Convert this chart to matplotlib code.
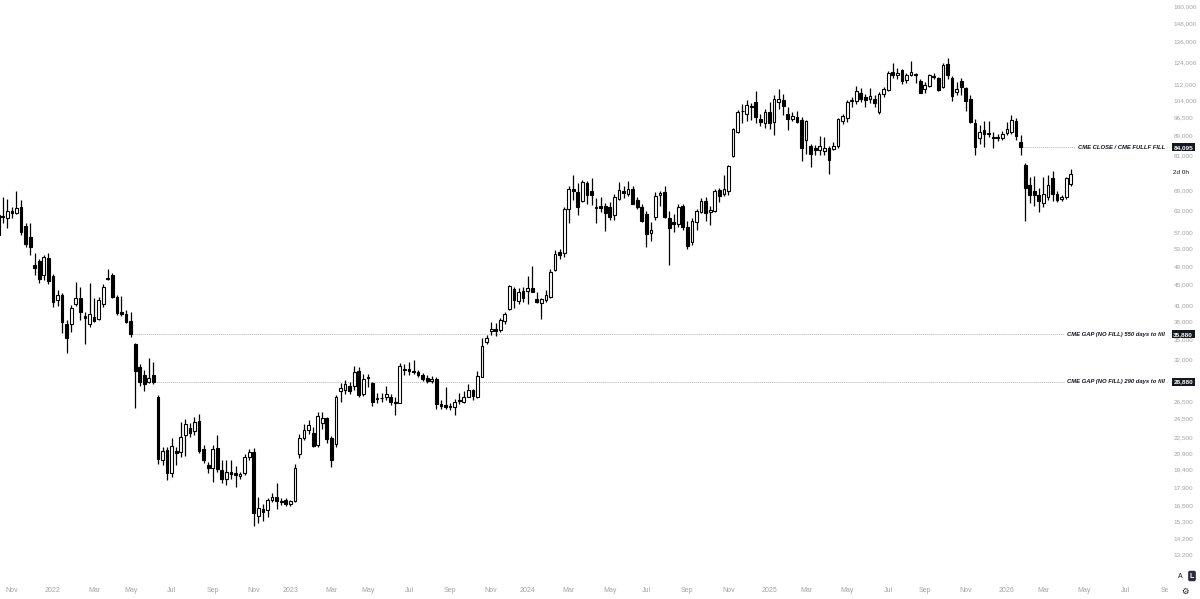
import matplotlib
matplotlib.use("Agg")
import matplotlib.pyplot as plt
import matplotlib.dates as mdates
import matplotlib.transforms as mtransforms
from matplotlib.patches import Rectangle
import numpy as np
import pandas as pd

plt.rcParams["font.family"] = ["Liberation Sans", "DejaVu Sans"]

# weekly CME bitcoin futures candles, prices in thousands of USD
first_week = "2021-10-11"

opens = [56.5, 61.6, 60.8, 62.8, 62.4, 64.0, 58.8, 55.9, 49.2, 50.1,
         47.0, 50.8, 46.8, 41.9, 42.9, 37.6, 37.6, 41.1, 42.3, 39.0,
         37.6, 38.8, 38.5, 41.1, 46.1, 47.0, 42.5, 39.8, 39.3, 38.2,
         34.3, 30.9, 29.8, 28.9, 29.8, 27.0, 20.2, 21.2, 19.1, 21.1,
         21.0, 22.7, 23.4, 23.1, 24.2, 21.3, 19.8, 19.5, 21.4, 19.3,
         18.6, 19.2, 19.1, 18.8, 19.1, 20.5, 21.0, 15.7, 16.2, 16.1,
         16.9, 17.1, 16.8, 16.9, 16.6, 16.8, 20.8, 22.4, 23.2, 22.9,
         21.7, 24.0, 24.5, 22.4, 21.8, 27.7, 27.8, 28.4, 28.3, 30.4,
         27.3, 29.4, 28.8, 26.7, 26.9, 27.0, 27.0, 26.4, 26.3, 30.6,
         30.7, 30.3, 30.2, 29.8, 29.4, 29.0, 29.3, 26.1, 26.0, 25.8,
         25.8, 26.6, 26.4, 27.0, 27.9, 27.0, 29.6, 34.6, 36.5, 36.8,
         36.6, 38.1, 40.3, 44.1, 41.8, 43.7, 43.8, 44.3, 42.1, 41.4,
         41.9, 42.5, 48.1, 52.2, 52.0, 63.6, 69.5, 68.6, 65.9, 71.4,
         69.0, 64.2, 64.4, 64.4, 64.2, 61.8, 66.3, 68.8, 68.1, 69.4,
         66.0, 64.0, 62.1, 56.8, 61.3, 67.6, 68.6, 60.9, 59.9, 59.3,
         64.4, 58.6, 54.6, 59.7, 62.5, 65.9, 62.5, 62.8, 69.1, 68.0,
         68.8, 80.9, 90.2, 99.4, 98.0, 101.6, 103.5, 95.5, 94.0, 98.9,
         94.3, 103.2, 104.5, 98.0, 95.6, 96.6, 95.2, 86.9, 84.4, 83.8,
         82.9, 82.5, 83.8, 83.5, 84.4, 94.7, 95.9, 104.0, 103.8, 107.5,
         105.6, 104.9, 105.0, 98.9, 107.4, 109.1, 118.5, 116.6, 119.6, 114.3,
         117.0, 117.5, 113.7, 109.5, 110.9, 116.3, 115.5, 110.6, 122.8, 115.5,
         108.1, 113.5, 110.0, 104.9, 94.0, 87.6, 91.0, 89.9, 88.0, 87.7,
         87.6, 89.8, 90.3, 94.9, 86.2, 77.6, 70.8, 68.9, 67.7, 65.1,
         66.9, 73.2, 67.9, 66.5, 67.2, 71.2]

highs = [62.8, 67.2, 66.3, 64.0, 68.9, 66.0, 59.6, 59.6, 52.0, 50.5,
         51.6, 52.0, 47.3, 43.9, 43.3, 38.3, 41.0, 45.5, 44.5, 39.8,
         45.3, 42.3, 42.5, 45.1, 48.3, 47.5, 42.9, 42.7, 40.1, 39.7,
         34.5, 31.3, 30.5, 32.2, 31.6, 27.2, 21.5, 21.5, 22.4, 21.5,
         24.1, 24.4, 24.0, 24.6, 25.0, 21.7, 20.1, 21.7, 22.7, 20.2,
         20.2, 20.2, 19.7, 19.2, 20.8, 21.3, 21.4, 17.1, 16.6, 17.0,
         17.4, 18.2, 17.0, 17.0, 16.9, 19.9, 22.8, 23.8, 24.3, 23.5,
         25.2, 25.2, 24.6, 22.6, 27.2, 28.8, 29.2, 28.9, 31.0, 30.9,
         30.0, 29.9, 28.9, 27.5, 27.5, 28.4, 27.3, 27.0, 31.5, 31.4,
         31.6, 31.9, 30.5, 30.1, 29.8, 29.7, 29.6, 26.6, 28.2, 26.2,
         26.7, 27.5, 27.7, 28.6, 28.0, 30.4, 35.3, 35.8, 38.0, 37.8,
         38.6, 39.7, 45.0, 44.6, 44.3, 44.5, 46.7, 49.0, 43.5, 42.4,
         43.9, 48.3, 52.6, 53.0, 64.0, 70.5, 74.0, 71.5, 72.5, 72.0,
         73.0, 66.7, 67.2, 65.1, 65.5, 68.0, 71.8, 70.5, 72.0, 70.5,
         67.0, 64.8, 63.0, 59.8, 68.5, 69.0, 70.5, 62.8, 62.1, 65.0,
         64.8, 60.0, 61.0, 63.5, 66.8, 67.2, 64.4, 69.5, 69.8, 74.0,
         77.5, 92.0, 99.8, 102.6, 104.5, 103.0, 108.8, 98.0, 99.9, 103.3,
         106.7, 109.5, 107.4, 101.1, 98.9, 99.0, 96.5, 95.0, 85.4, 85.0,
         88.5, 88.0, 84.7, 86.0, 96.0, 97.8, 104.5, 105.5, 111.3, 110.0,
         107.4, 110.2, 106.5, 108.2, 110.5, 119.0, 123.2, 120.5, 120.0, 117.8,
         124.5, 118.0, 114.5, 113.0, 117.5, 118.0, 116.0, 123.5, 126.3, 116.2,
         113.4, 115.5, 110.8, 106.5, 95.5, 93.0, 94.7, 94.7, 90.3, 89.5,
         90.5, 94.5, 97.5, 95.9, 89.0, 78.4, 73.4, 73.8, 69.9, 73.6,
         74.0, 75.6, 68.8, 67.8, 73.5, 76.1]

lows = [55.5, 59.5, 58.3, 61.0, 62.0, 56.5, 53.5, 51.6, 47.0, 45.3,
        45.9, 45.2, 40.7, 40.9, 36.1, 32.9, 36.2, 40.8, 38.3, 34.4,
        37.1, 37.9, 38.3, 40.7, 45.9, 42.3, 39.2, 39.0, 37.7, 35.5,
        25.6, 28.4, 27.7, 28.7, 28.6, 19.9, 19.8, 18.5, 18.7, 19.8,
        20.5, 20.6, 22.5, 22.7, 20.9, 20.0, 19.1, 18.3, 19.2, 18.2,
        18.1, 18.6, 17.9, 18.6, 18.9, 20.2, 15.0, 15.2, 15.3, 15.6,
        16.7, 16.2, 16.5, 16.4, 16.4, 16.7, 20.4, 22.2, 22.8, 21.5,
        21.5, 23.3, 21.9, 19.6, 21.5, 26.4, 27.3, 27.3, 27.8, 27.0,
        27.1, 28.2, 25.9, 26.3, 26.4, 26.6, 26.0, 24.8, 26.2, 29.8,
        29.8, 29.9, 29.6, 29.0, 28.8, 28.7, 25.5, 25.5, 25.5, 25.4,
        24.9, 26.1, 26.2, 27.0, 26.6, 26.9, 29.5, 34.3, 35.8, 35.6,
        36.3, 37.6, 40.0, 40.5, 41.2, 41.5, 41.1, 43.5, 41.3, 38.5,
        41.5, 42.3, 47.8, 50.6, 51.0, 59.5, 66.0, 61.9, 65.5, 65.0,
        64.6, 59.6, 62.5, 57.4, 60.5, 60.5, 66.0, 66.8, 67.5, 64.8,
        63.5, 59.8, 53.5, 55.0, 60.5, 64.5, 61.0, 49.2, 57.2, 58.5,
        57.8, 53.0, 54.0, 57.8, 62.2, 60.0, 59.0, 62.5, 65.5, 67.5,
        67.8, 80.5, 89.8, 94.0, 94.7, 95.0, 94.0, 92.6, 91.8, 91.5,
        89.0, 100.0, 97.5, 91.0, 94.7, 93.8, 78.9, 81.5, 76.7, 81.0,
        81.1, 81.0, 74.5, 83.0, 84.0, 93.5, 94.5, 101.0, 102.5, 103.5,
        101.1, 103.0, 101.0, 98.0, 105.5, 108.5, 115.5, 115.0, 112.0, 112.8,
        116.5, 112.5, 107.5, 107.5, 110.5, 114.8, 108.5, 110.0, 115.0, 104.0,
        106.7, 106.5, 99.0, 94.0, 81.0, 85.5, 84.2, 88.0, 84.0, 86.5,
        86.8, 89.0, 89.5, 86.9, 81.3, 60.0, 65.1, 64.4, 62.5, 64.0,
        66.0, 65.8, 65.5, 65.8, 66.5, 70.5]

closes = [61.8, 61.1, 62.9, 62.2, 63.8, 57.3, 54.1, 53.5, 48.5, 46.2,
          51.0, 45.8, 41.5, 42.9, 37.9, 35.3, 40.5, 42.3, 39.7, 38.7,
          39.3, 38.1, 41.9, 44.5, 46.4, 42.5, 39.5, 39.3, 37.9, 35.88,
          30.3, 28.9, 28.6, 29.4, 28.88, 20.3, 21.1, 19.1, 21.6, 20.9,
          22.5, 23.9, 22.9, 24.1, 21.1, 20.2, 19.5, 21.3, 19.4, 18.6,
          19.2, 19.0, 18.9, 19.0, 20.5, 21.0, 15.9, 16.3, 16.0, 16.9,
          17.1, 16.8, 16.75, 16.6, 16.8, 19.5, 22.4, 23.2, 23.7, 21.6,
          24.7, 24.5, 22.3, 20.2, 27.0, 28.1, 28.6, 27.7, 30.2, 27.2,
          29.3, 29.5, 26.4, 26.9, 26.8, 27.4, 26.4, 26.2, 31.0, 30.5,
          30.3, 30.2, 29.8, 29.3, 29.0, 29.3, 26.1, 25.9, 25.8, 25.9,
          26.4, 26.5, 27.0, 27.9, 27.1, 29.7, 34.0, 35.3, 36.8, 36.4,
          38.3, 39.4, 44.7, 41.9, 43.6, 42.4, 44.4, 43.6, 41.5, 42.2,
          42.9, 47.6, 51.7, 51.6, 63.6, 69.5, 69.0, 64.0, 71.8, 67.8,
          67.6, 63.9, 63.8, 62.3, 61.2, 67.2, 69.2, 68.3, 69.4, 65.0,
          64.1, 60.2, 56.6, 57.7, 67.5, 68.3, 61.3, 58.3, 59.3, 64.0,
          58.6, 53.6, 60.0, 62.8, 65.9, 62.3, 63.2, 68.9, 67.3, 69.4,
          77.3, 91.5, 98.9, 99.0, 101.8, 101.0, 96.5, 94.5, 98.9, 94.0,
          104.9, 104.6, 101.6, 95.5, 96.9, 94.3, 84.0, 94.7, 81.7, 83.0,
          84.4, 84.0, 79.4, 84.5, 95.5, 96.8, 103.3, 104.2, 108.8, 104.9,
          104.3, 106.3, 103.0, 107.0, 109.8, 117.8, 117.0, 117.8, 113.5, 116.7,
          118.5, 116.8, 107.8, 111.9, 116.7, 116.0, 109.3, 122.5, 116.6, 106.4,
          109.8, 110.7, 104.0, 94.3, 84.2, 90.3, 89.3, 89.3, 87.6, 88.0,
          89.5, 91.2, 95.2, 88.6, 84.095, 70.0, 67.8, 67.7, 65.8, 68.0,
          70.8, 67.9, 66.0, 67.2, 73.1, 74.6]

# horizontal levels drawn on the chart
level_prices = [84095, 35880, 28880]
level_from = ["2026-01-26", "2022-05-02", "2022-06-06"]
level_notes = ["CME CLOSE / CME FULLF FILL",
               "CME GAP (NO FILL) 550 days to fill",
               "CME GAP (NO FILL) 290 days to fill"]

price_ticks = [160000, 148000, 136000, 124000, 112000, 104000, 96500, 89000,
               81000, 69000, 63000, 57000, 53000, 49000, 45000, 41000, 38000,
               35000, 32000, 26500, 24500, 22500, 20900, 19400, 17900, 16500,
               15300, 14200, 13200]

weeks = pd.date_range(first_week, periods=len(closes), freq="7D")
x = mdates.date2num(weeks)
o = np.array(opens) * 1000
h = np.array(highs) * 1000
l = np.array(lows) * 1000
c = np.array(closes) * 1000
up = c >= o

label_grey = "#a3a3a3"

fig = plt.figure(figsize=(12, 5.99), dpi=100)
ax = fig.add_axes([0, 21 / 599, 1168 / 1200, 578 / 599])

ax.vlines(x, l, h, color="black", lw=0.9, zorder=2)
ax.bar(x[up], (c - o)[up], bottom=o[up], width=4.2, color="white",
       edgecolor="black", linewidth=0.8, zorder=3)
ax.bar(x[~up], (o - c)[~up], bottom=c[~up], width=4.2, color="black",
       edgecolor="black", linewidth=0.8, zorder=3)

ax.set_yscale("log")
x0 = x[0]
ax.set_xlim(x0 + 0.39 * 7, x0 + 256.3 * 7)
ax.set_ylim(11829, 164430)

for s in ax.spines.values():
    s.set_visible(False)

ax.yaxis.tick_right()
ax.set_yticks(price_ticks)
ax.set_yticklabels([f"{v:,}" for v in price_ticks])
ax.yaxis.set_minor_locator(matplotlib.ticker.NullLocator())
ax.tick_params(axis="y", length=0, pad=4, labelsize=4.6, labelcolor=label_grey)

tick_dates = []
for m in pd.date_range("2021-11-01", "2026-09-01", freq="2MS"):
    tick_dates.append(m + pd.Timedelta(days=(7 - m.weekday()) % 7))
ax.set_xticks(mdates.date2num(tick_dates))
ax.set_xticklabels([str(d.year) if d.month == 1 else d.strftime("%b") for d in tick_dates])
ax.tick_params(axis="x", length=0, pad=6.5, labelsize=5, labelcolor=label_grey)

right_data = x0 + 256.3 * 7
trans = mtransforms.blended_transform_factory(ax.transAxes, ax.transData)
for price, start, note in zip(level_prices, level_from, level_notes):
    ax.plot([mdates.date2num(pd.Timestamp(start)) + 3, right_data], [price, price],
            ls=(0, (1, 1)), color="#b5b5b5", lw=0.7, zorder=1)
    ax.text(0.9975, price, note, transform=trans, ha="right", va="center",
            fontsize=4.2, style="italic", weight="bold", color="#131722",
            bbox=dict(facecolor="white", edgecolor="none", pad=1.5), zorder=4)
    ax.text(1.0045, price, f"{price:,}", transform=trans, ha="left", va="center",
            fontsize=4.6, weight="bold", color="white", clip_on=False,
            bbox=dict(facecolor="#131722", edgecolor="none", pad=1.2), zorder=6)

ax.text(1.0045, 74800, "2d 0h", transform=trans, ha="left", va="center",
        fontsize=4.6, color="#131722", clip_on=False, zorder=6)

# price scale corner covering the cut time label
fig.add_artist(Rectangle((1168 / 1200, 0), 32 / 1200, 21 / 599,
                         transform=fig.transFigure, color="white", zorder=5))
fig.text(1180 / 1200, 1 - 576 / 599, "A", fontsize=5, ha="center", va="center",
         color="#131722", zorder=7)
fig.text(1192 / 1200, 1 - 576 / 599, "L", fontsize=5, ha="center", va="center",
         color="white", weight="bold", zorder=7,
         bbox=dict(facecolor="#2a2e39", edgecolor="none", boxstyle="round,pad=0.25"))
fig.text(1185 / 1200, 1 - 591 / 599, "\u2699", fontsize=6, ha="center", va="center",
         color="#131722", zorder=7, family="DejaVu Sans")

fig.savefig("out.png", dpi=100)
